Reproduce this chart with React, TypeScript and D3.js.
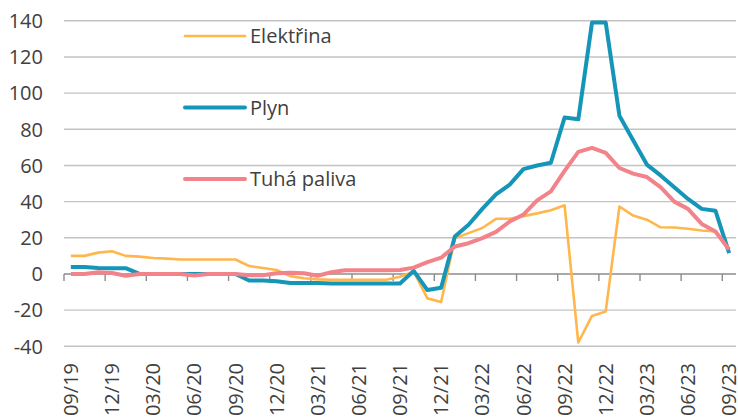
import React, { useEffect, useRef } from "react";
import * as d3 from "d3";

// month categories, 09/19 .. 09/23
const months = [
  "09/19", "10/19", "11/19", "12/19", "01/20", "02/20", "03/20", "04/20", "05/20", "06/20",
  "07/20", "08/20", "09/20", "10/20", "11/20", "12/20", "01/21", "02/21", "03/21", "04/21",
  "05/21", "06/21", "07/21", "08/21", "09/21", "10/21", "11/21", "12/21", "01/22", "02/22",
  "03/22", "04/22", "05/22", "06/22", "07/22", "08/22", "09/22", "10/22", "11/22", "12/22",
  "01/23", "02/23", "03/23", "04/23", "05/23", "06/23", "07/23", "08/23", "09/23",
];

const elektrina = [
  10, 10, 11.8, 12.6, 10, 9.6, 8.8, 8.5, 8, 8,
  8, 8, 8, 4.4, 3.3, 2.2, -1.2, -2.4, -3, -3.2,
  -3.2, -3.2, -3.2, -3.2, -1.5, 1.3, -13.5, -15.5, 19.8, 22.6,
  25.4, 30.5, 30.5, 32, 33.5, 35.2, 38, -37.9, -23.2, -20.7,
  37.3, 32.3, 30, 25.8, 25.7, 25, 24, 23.5, 13.5,
];

const plyn = [
  3.8, 3.8, 3.3, 3.2, 3.2, 0, 0, 0, 0, 0,
  0, 0, 0, -3.6, -3.6, -4, -5, -5, -5, -5.3,
  -5.3, -5.3, -5.3, -5.3, -5.3, 1.7, -8.9, -7.6, 20.7, 27.2,
  36, 44, 49.4, 58, 60, 61.5, 86.5, 85.5, 139, 139,
  87.5, 74, 60.5, 54.5, 48, 41.5, 36, 35, 11.5,
];

const tuhaPaliva = [
  0, 0, 1, 0.5, -1, 0, 0, 0, 0, -0.8,
  0, 0, 0, -0.7, -0.7, 0.4, 0.7, 0.4, -1, 1,
  2, 2, 2, 2, 2.2, 3.5, 6.5, 9, 15.2, 17,
  19.8, 23.3, 29, 32.8, 40.7, 45.7, 57, 67.5, 69.7, 67,
  58.6, 55.5, 53.6, 48, 40, 36, 27.7, 23.5, 13.5,
];

const yTicks = [-40, -20, 0, 20, 40, 60, 80, 100, 120, 140];

const series = [
  { name: "Elektřina", values: elektrina, color: "#FFB74D", width: 2.6 },
  { name: "Plyn", values: plyn, color: "#1596B9", width: 4 },
  { name: "Tuhá paliva", values: tuhaPaliva, color: "#F2838A", width: 4 },
];

const App = () => {
  const svgRef = useRef<SVGSVGElement>(null);

  useEffect(() => {
    const width = 738;
    const height = 420;
    const font = "'Open Sans', sans-serif";
    const textColor = "#404040";

    const svg = d3.select(svgRef.current).attr("width", width).attr("height", height);
    svg.selectAll("*").remove();

    const x = d3.scaleBand<string>().domain(months).range([64, 736]).padding(0);
    const y = d3.scaleLinear().domain([-40, 140]).range([346.3, 20.8]);
    const cx = (m: string) => (x(m) as number) + x.bandwidth() / 2;

    // gridlines
    svg
      .append("g")
      .selectAll("line")
      .data(yTicks.filter((t) => t !== 0))
      .enter()
      .append("line")
      .attr("x1", 64)
      .attr("x2", 736)
      .attr("y1", (d) => y(d))
      .attr("y2", (d) => y(d))
      .attr("stroke", "#C3C3C3")
      .attr("stroke-width", 1.4);

    // y labels
    svg
      .append("g")
      .selectAll("text")
      .data(yTicks)
      .enter()
      .append("text")
      .attr("x", 43)
      .attr("y", (d) => y(d))
      .attr("dy", "0.36em")
      .attr("text-anchor", "end")
      .style("font-family", font)
      .style("font-size", "20px")
      .attr("fill", textColor)
      .text((d) => String(d));

    // zero axis with ticks every 3 months
    const axis = svg.append("g");
    axis
      .append("line")
      .attr("x1", 64)
      .attr("x2", 736)
      .attr("y1", y(0))
      .attr("y2", y(0))
      .attr("stroke", "#8C8C8C")
      .attr("stroke-width", 1.4);

    const tickMonths = months.filter((_, i) => i % 3 === 0);
    axis
      .selectAll("line.tick")
      .data(tickMonths)
      .enter()
      .append("line")
      .attr("class", "tick")
      .attr("x1", (d) => x(d) as number)
      .attr("x2", (d) => x(d) as number)
      .attr("y1", y(0))
      .attr("y2", y(0) + 7)
      .attr("stroke", "#8C8C8C")
      .attr("stroke-width", 1.4);

    axis
      .selectAll("text")
      .data(tickMonths)
      .enter()
      .append("text")
      .attr("transform", (d) => `translate(${cx(d)},363) rotate(-90)`)
      .attr("dy", "0.36em")
      .attr("text-anchor", "end")
      .style("font-family", font)
      .style("font-size", "20px")
      .attr("fill", textColor)
      .text((d) => d);

    // lines
    const line = d3
      .line<number>()
      .x((_, i) => cx(months[i]))
      .y((d) => y(d));

    series.forEach((s) => {
      svg
        .append("path")
        .datum(s.values)
        .attr("d", line)
        .attr("fill", "none")
        .attr("stroke", s.color)
        .attr("stroke-width", s.width)
        .attr("stroke-linejoin", "round");
    });

    // legend
    const legendY = [36, 107.5, 179];
    const legend = svg
      .append("g")
      .selectAll("g")
      .data(series)
      .enter()
      .append("g")
      .attr("transform", (_, i) => `translate(0,${legendY[i]})`);

    legend
      .append("line")
      .attr("x1", 185)
      .attr("x2", 245)
      .attr("stroke", (d) => d.color)
      .attr("stroke-width", (d) => d.width)
      .attr("stroke-linecap", "round");

    legend
      .append("text")
      .attr("x", 250)
      .attr("dy", "0.36em")
      .style("font-family", font)
      .style("font-size", "20px")
      .attr("fill", textColor)
      .text((d) => d.name);
  }, []);

  return (
    <div style={{ position: "absolute", left: 0, top: 0 }}>
      <svg ref={svgRef} style={{ display: "block" }}></svg>
    </div>
  );
};

export default App;
